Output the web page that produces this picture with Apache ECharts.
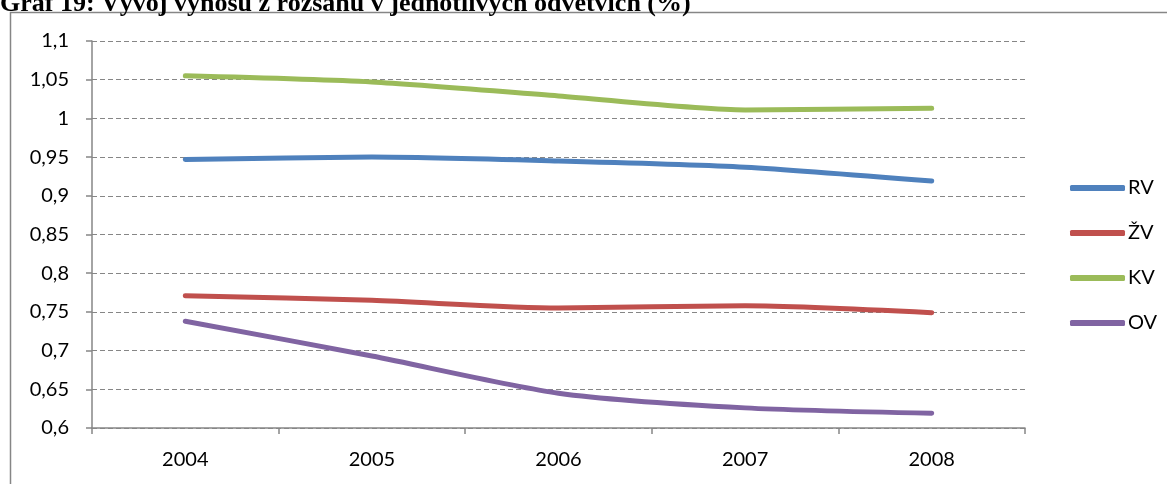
<!DOCTYPE html>
<html>
<head>
<meta charset="utf-8">
<script src="https://cdn.jsdelivr.net/npm/echarts@6/dist/echarts.min.js"></script>
<style>
  html, body { margin: 0; padding: 0; background: #fff; }
  #chart { width: 1167px; height: 484px; }
</style>
</head>
<body>
<div id="chart"></div>
<script>
// Výnos z rozsahu podle odvětví, 2004–2008
const years = ['2004', '2005', '2006', '2007', '2008'];
const seriesNames = ['RV', 'ŽV', 'KV', 'OV'];
const rv = [0.947, 0.950, 0.945, 0.937, 0.919];
const zv = [0.771, 0.765, 0.755, 0.758, 0.749];
const kv = [1.055, 1.047, 1.029, 1.011, 1.013];
const ov = [0.738, 0.693, 0.645, 0.626, 0.619];
const colors = ['#4F81BD', '#C0504D', '#9BBB59', '#8064A2'];
const titleText = 'Graf 19: Vývoj výnosu z rozsahu v jednotlivých odvětvích (%)';

const values = [rv, zv, kv, ov];
const font = 'Lato, "Open Sans", sans-serif';

const chart = echarts.init(document.getElementById('chart'), null, { renderer: 'canvas' });

function fmt(v) {
  return String(Math.round(v * 100) / 100).replace('.', ',');
}

chart.setOption({
  animation: false,
  backgroundColor: '#ffffff',
  color: colors,
  grid: { left: 92, right: 142, top: 41, bottom: 56 },
  graphic: [
    {
      type: 'rect',
      shape: { x: 10.5, y: 12.5, width: 1200, height: 520 },
      style: { fill: 'none', stroke: '#868686', lineWidth: 1.5 },
      silent: true
    },
    {
      type: 'text',
      left: 0,
      top: -9,
      style: {
        text: titleText,
        font: 'bold 26px "Liberation Serif", "Times New Roman", serif',
        fill: '#000'
      },
      silent: true
    }
  ],
  legend: {
    orient: 'vertical',
    left: 1065,
    top: 173,
    itemWidth: 55,
    itemHeight: 6,
    itemGap: 25,
    icon: 'roundRect',
    data: seriesNames,
    textStyle: { color: '#000', fontSize: 20, fontFamily: font, padding: [0, 0, 0, -2] }
  },
  xAxis: {
    type: 'category',
    data: years,
    boundaryGap: true,
    axisLine: { lineStyle: { color: '#868686', width: 1.5 } },
    axisTick: { show: true, length: 6, lineStyle: { color: '#868686', width: 1.5 } },
    axisLabel: { color: '#000', fontSize: 20, fontFamily: font, margin: 22 }
  },
  yAxis: {
    type: 'value',
    min: 0.6,
    max: 1.1,
    interval: 0.05,
    axisLine: { show: true, lineStyle: { color: '#868686', width: 1.5 } },
    axisTick: { show: true, length: 6, lineStyle: { color: '#868686', width: 1.5 } },
    axisLabel: { color: '#000', fontSize: 20, fontFamily: font, margin: 23, formatter: fmt },
    splitLine: { show: true, lineStyle: { color: '#868686', width: 1, type: [5, 3] } }
  },
  series: seriesNames.map((name, i) => ({
    name: name,
    type: 'line',
    data: values[i],
    smooth: 0.25,
    symbol: 'none',
    lineStyle: { width: 5, color: colors[i], cap: 'round', join: 'round' },
    itemStyle: { color: colors[i] }
  }))
});
</script>
</body>
</html>
